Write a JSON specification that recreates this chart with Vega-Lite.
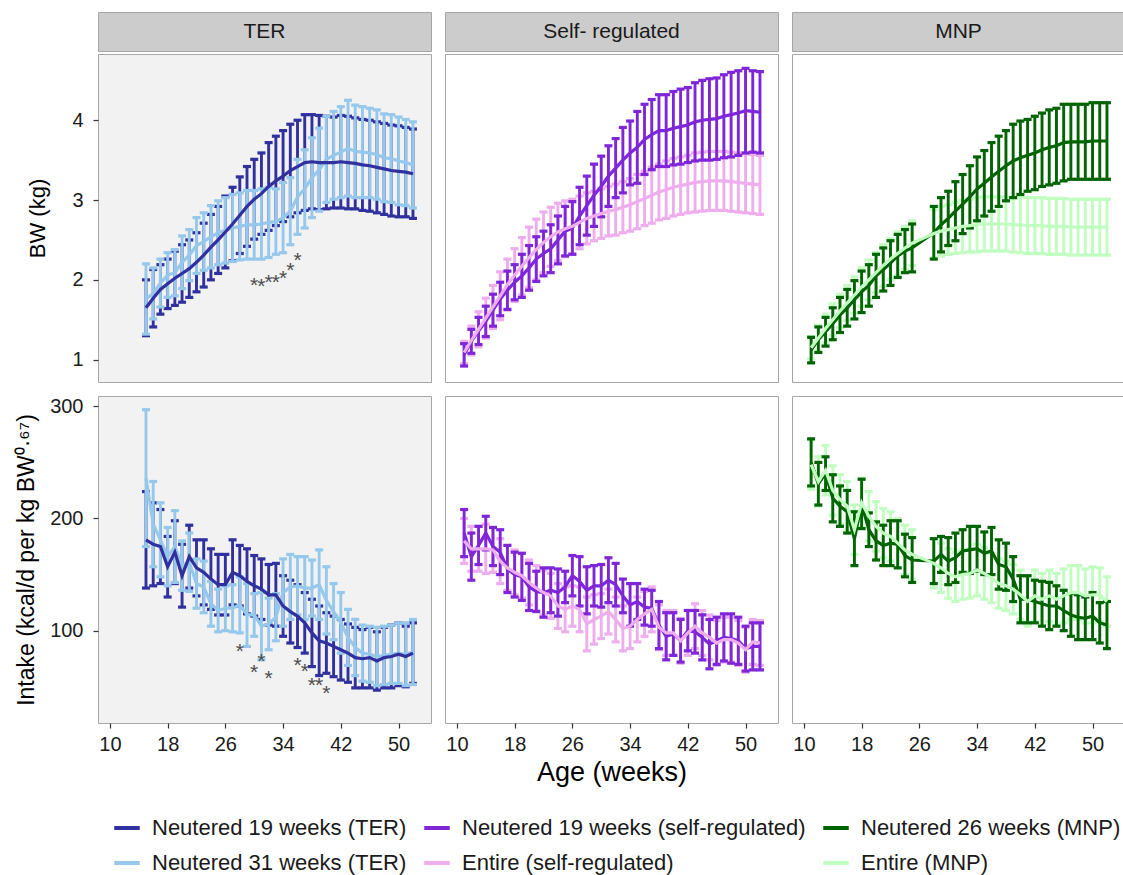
{
"$schema": "https://vega.github.io/schema/vega-lite/v6.json",
"padding": {"left": 15, "top": 11, "right": 1, "bottom": 0},
"background": "white",
"config": {
  "font": "Liberation Sans",
  "view": {"stroke": "#A6A6A6", "strokeWidth": 1},
  "axis": {"grid": false, "domain": false, "tickColor": "#333333", "tickSize": 5, "tickWidth": 1.2, "labelFontSize": 20, "labelColor": "#1A1A1A", "titleFontWeight": "normal", "titleColor": "#000000", "labelPadding": 6},
  "legend": {"orient": "bottom", "direction": "horizontal", "columns": 3, "symbolType": "stroke", "symbolStrokeWidth": 4, "symbolSize": 650, "labelFontSize": 22, "labelColor": "#1A1A1A", "columnPadding": 9, "rowPadding": 9, "labelOffset": 10, "offset": 13, "padding": 14, "labelLimit": 420, "symbolOpacity": 1}
},
"datasets": {
  "BW_TER": [
    {"series":"Neutered 19 weeks (TER)","week":15,"mean":1.65,"sd":0.35},
    {"series":"Neutered 19 weeks (TER)","week":16,"mean":1.77,"sd":0.36},
    {"series":"Neutered 19 weeks (TER)","week":17,"mean":1.88,"sd":0.31},
    {"series":"Neutered 19 weeks (TER)","week":18,"mean":1.95,"sd":0.31},
    {"series":"Neutered 19 weeks (TER)","week":19,"mean":2.02,"sd":0.34},
    {"series":"Neutered 19 weeks (TER)","week":20,"mean":2.08,"sd":0.36},
    {"series":"Neutered 19 weeks (TER)","week":21,"mean":2.14,"sd":0.36},
    {"series":"Neutered 19 weeks (TER)","week":22,"mean":2.22,"sd":0.37},
    {"series":"Neutered 19 weeks (TER)","week":23,"mean":2.31,"sd":0.40},
    {"series":"Neutered 19 weeks (TER)","week":24,"mean":2.41,"sd":0.41},
    {"series":"Neutered 19 weeks (TER)","week":25,"mean":2.50,"sd":0.42},
    {"series":"Neutered 19 weeks (TER)","week":26,"mean":2.60,"sd":0.45},
    {"series":"Neutered 19 weeks (TER)","week":27,"mean":2.70,"sd":0.46},
    {"series":"Neutered 19 weeks (TER)","week":28,"mean":2.81,"sd":0.48},
    {"series":"Neutered 19 weeks (TER)","week":29,"mean":2.92,"sd":0.50},
    {"series":"Neutered 19 weeks (TER)","week":30,"mean":3.01,"sd":0.50},
    {"series":"Neutered 19 weeks (TER)","week":31,"mean":3.08,"sd":0.51},
    {"series":"Neutered 19 weeks (TER)","week":32,"mean":3.17,"sd":0.55},
    {"series":"Neutered 19 weeks (TER)","week":33,"mean":3.24,"sd":0.56},
    {"series":"Neutered 19 weeks (TER)","week":34,"mean":3.30,"sd":0.57},
    {"series":"Neutered 19 weeks (TER)","week":35,"mean":3.37,"sd":0.58},
    {"series":"Neutered 19 weeks (TER)","week":36,"mean":3.42,"sd":0.58},
    {"series":"Neutered 19 weeks (TER)","week":37,"mean":3.47,"sd":0.60},
    {"series":"Neutered 19 weeks (TER)","week":38,"mean":3.48,"sd":0.59},
    {"series":"Neutered 19 weeks (TER)","week":39,"mean":3.47,"sd":0.59},
    {"series":"Neutered 19 weeks (TER)","week":40,"mean":3.47,"sd":0.58},
    {"series":"Neutered 19 weeks (TER)","week":41,"mean":3.47,"sd":0.57},
    {"series":"Neutered 19 weeks (TER)","week":42,"mean":3.48,"sd":0.58},
    {"series":"Neutered 19 weeks (TER)","week":43,"mean":3.47,"sd":0.58},
    {"series":"Neutered 19 weeks (TER)","week":44,"mean":3.46,"sd":0.57},
    {"series":"Neutered 19 weeks (TER)","week":45,"mean":3.44,"sd":0.57},
    {"series":"Neutered 19 weeks (TER)","week":46,"mean":3.43,"sd":0.57},
    {"series":"Neutered 19 weeks (TER)","week":47,"mean":3.41,"sd":0.57},
    {"series":"Neutered 19 weeks (TER)","week":48,"mean":3.39,"sd":0.57},
    {"series":"Neutered 19 weeks (TER)","week":49,"mean":3.37,"sd":0.57},
    {"series":"Neutered 19 weeks (TER)","week":50,"mean":3.36,"sd":0.57},
    {"series":"Neutered 19 weeks (TER)","week":51,"mean":3.35,"sd":0.56},
    {"series":"Neutered 19 weeks (TER)","week":52,"mean":3.33,"sd":0.56},
    {"series":"Neutered 31 weeks (TER)","week":15,"mean":1.76,"sd":0.44},
    {"series":"Neutered 31 weeks (TER)","week":16,"mean":1.83,"sd":0.32},
    {"series":"Neutered 31 weeks (TER)","week":17,"mean":1.96,"sd":0.30},
    {"series":"Neutered 31 weeks (TER)","week":18,"mean":2.06,"sd":0.28},
    {"series":"Neutered 31 weeks (TER)","week":19,"mean":2.09,"sd":0.29},
    {"series":"Neutered 31 weeks (TER)","week":20,"mean":2.22,"sd":0.33},
    {"series":"Neutered 31 weeks (TER)","week":21,"mean":2.31,"sd":0.32},
    {"series":"Neutered 31 weeks (TER)","week":22,"mean":2.43,"sd":0.35},
    {"series":"Neutered 31 weeks (TER)","week":23,"mean":2.48,"sd":0.36},
    {"series":"Neutered 31 weeks (TER)","week":24,"mean":2.54,"sd":0.39},
    {"series":"Neutered 31 weeks (TER)","week":25,"mean":2.59,"sd":0.40},
    {"series":"Neutered 31 weeks (TER)","week":26,"mean":2.62,"sd":0.41},
    {"series":"Neutered 31 weeks (TER)","week":27,"mean":2.65,"sd":0.42},
    {"series":"Neutered 31 weeks (TER)","week":28,"mean":2.67,"sd":0.42},
    {"series":"Neutered 31 weeks (TER)","week":29,"mean":2.69,"sd":0.43},
    {"series":"Neutered 31 weeks (TER)","week":30,"mean":2.69,"sd":0.43},
    {"series":"Neutered 31 weeks (TER)","week":31,"mean":2.70,"sd":0.44},
    {"series":"Neutered 31 weeks (TER)","week":32,"mean":2.72,"sd":0.44},
    {"series":"Neutered 31 weeks (TER)","week":33,"mean":2.73,"sd":0.41},
    {"series":"Neutered 31 weeks (TER)","week":34,"mean":2.78,"sd":0.44},
    {"series":"Neutered 31 weeks (TER)","week":35,"mean":2.86,"sd":0.42},
    {"series":"Neutered 31 weeks (TER)","week":36,"mean":3.04,"sd":0.47},
    {"series":"Neutered 31 weeks (TER)","week":37,"mean":3.14,"sd":0.49},
    {"series":"Neutered 31 weeks (TER)","week":38,"mean":3.28,"sd":0.50},
    {"series":"Neutered 31 weeks (TER)","week":39,"mean":3.38,"sd":0.52},
    {"series":"Neutered 31 weeks (TER)","week":40,"mean":3.51,"sd":0.54},
    {"series":"Neutered 31 weeks (TER)","week":41,"mean":3.56,"sd":0.55},
    {"series":"Neutered 31 weeks (TER)","week":42,"mean":3.60,"sd":0.57},
    {"series":"Neutered 31 weeks (TER)","week":43,"mean":3.65,"sd":0.60},
    {"series":"Neutered 31 weeks (TER)","week":44,"mean":3.61,"sd":0.58},
    {"series":"Neutered 31 weeks (TER)","week":45,"mean":3.60,"sd":0.57},
    {"series":"Neutered 31 weeks (TER)","week":46,"mean":3.59,"sd":0.56},
    {"series":"Neutered 31 weeks (TER)","week":47,"mean":3.57,"sd":0.56},
    {"series":"Neutered 31 weeks (TER)","week":48,"mean":3.53,"sd":0.55},
    {"series":"Neutered 31 weeks (TER)","week":49,"mean":3.52,"sd":0.55},
    {"series":"Neutered 31 weeks (TER)","week":50,"mean":3.49,"sd":0.55},
    {"series":"Neutered 31 weeks (TER)","week":51,"mean":3.47,"sd":0.54},
    {"series":"Neutered 31 weeks (TER)","week":52,"mean":3.44,"sd":0.54}
  ],
  "BW_SR": [
    {"series":"Neutered 19 weeks (self-regulated)","week":11,"mean":1.06,"sd":0.14},
    {"series":"Neutered 19 weeks (self-regulated)","week":12,"mean":1.23,"sd":0.15},
    {"series":"Neutered 19 weeks (self-regulated)","week":13,"mean":1.36,"sd":0.17},
    {"series":"Neutered 19 weeks (self-regulated)","week":14,"mean":1.48,"sd":0.19},
    {"series":"Neutered 19 weeks (self-regulated)","week":15,"mean":1.62,"sd":0.20},
    {"series":"Neutered 19 weeks (self-regulated)","week":16,"mean":1.76,"sd":0.21},
    {"series":"Neutered 19 weeks (self-regulated)","week":17,"mean":1.87,"sd":0.24},
    {"series":"Neutered 19 weeks (self-regulated)","week":18,"mean":1.97,"sd":0.22},
    {"series":"Neutered 19 weeks (self-regulated)","week":19,"mean":2.05,"sd":0.27},
    {"series":"Neutered 19 weeks (self-regulated)","week":20,"mean":2.15,"sd":0.28},
    {"series":"Neutered 19 weeks (self-regulated)","week":21,"mean":2.26,"sd":0.28},
    {"series":"Neutered 19 weeks (self-regulated)","week":22,"mean":2.33,"sd":0.28},
    {"series":"Neutered 19 weeks (self-regulated)","week":23,"mean":2.39,"sd":0.30},
    {"series":"Neutered 19 weeks (self-regulated)","week":24,"mean":2.50,"sd":0.30},
    {"series":"Neutered 19 weeks (self-regulated)","week":25,"mean":2.61,"sd":0.31},
    {"series":"Neutered 19 weeks (self-regulated)","week":26,"mean":2.65,"sd":0.33},
    {"series":"Neutered 19 weeks (self-regulated)","week":27,"mean":2.80,"sd":0.36},
    {"series":"Neutered 19 weeks (self-regulated)","week":28,"mean":2.93,"sd":0.37},
    {"series":"Neutered 19 weeks (self-regulated)","week":29,"mean":3.06,"sd":0.39},
    {"series":"Neutered 19 weeks (self-regulated)","week":30,"mean":3.17,"sd":0.38},
    {"series":"Neutered 19 weeks (self-regulated)","week":31,"mean":3.30,"sd":0.38},
    {"series":"Neutered 19 weeks (self-regulated)","week":32,"mean":3.40,"sd":0.37},
    {"series":"Neutered 19 weeks (self-regulated)","week":33,"mean":3.50,"sd":0.41},
    {"series":"Neutered 19 weeks (self-regulated)","week":34,"mean":3.59,"sd":0.40},
    {"series":"Neutered 19 weeks (self-regulated)","week":35,"mean":3.66,"sd":0.45},
    {"series":"Neutered 19 weeks (self-regulated)","week":36,"mean":3.76,"sd":0.44},
    {"series":"Neutered 19 weeks (self-regulated)","week":37,"mean":3.82,"sd":0.44},
    {"series":"Neutered 19 weeks (self-regulated)","week":38,"mean":3.87,"sd":0.45},
    {"series":"Neutered 19 weeks (self-regulated)","week":39,"mean":3.87,"sd":0.45},
    {"series":"Neutered 19 weeks (self-regulated)","week":40,"mean":3.90,"sd":0.46},
    {"series":"Neutered 19 weeks (self-regulated)","week":41,"mean":3.92,"sd":0.47},
    {"series":"Neutered 19 weeks (self-regulated)","week":42,"mean":3.94,"sd":0.47},
    {"series":"Neutered 19 weeks (self-regulated)","week":43,"mean":3.98,"sd":0.49},
    {"series":"Neutered 19 weeks (self-regulated)","week":44,"mean":4.00,"sd":0.50},
    {"series":"Neutered 19 weeks (self-regulated)","week":45,"mean":4.01,"sd":0.51},
    {"series":"Neutered 19 weeks (self-regulated)","week":46,"mean":4.02,"sd":0.51},
    {"series":"Neutered 19 weeks (self-regulated)","week":47,"mean":4.05,"sd":0.52},
    {"series":"Neutered 19 weeks (self-regulated)","week":48,"mean":4.07,"sd":0.53},
    {"series":"Neutered 19 weeks (self-regulated)","week":49,"mean":4.09,"sd":0.53},
    {"series":"Neutered 19 weeks (self-regulated)","week":50,"mean":4.12,"sd":0.53},
    {"series":"Neutered 19 weeks (self-regulated)","week":51,"mean":4.11,"sd":0.51},
    {"series":"Neutered 19 weeks (self-regulated)","week":52,"mean":4.10,"sd":0.51},
    {"series":"Entire (self-regulated)","week":11,"mean":1.09,"sd":0.14},
    {"series":"Entire (self-regulated)","week":12,"mean":1.24,"sd":0.18},
    {"series":"Entire (self-regulated)","week":13,"mean":1.38,"sd":0.22},
    {"series":"Entire (self-regulated)","week":14,"mean":1.52,"sd":0.25},
    {"series":"Entire (self-regulated)","week":15,"mean":1.66,"sd":0.27},
    {"series":"Entire (self-regulated)","week":16,"mean":1.80,"sd":0.30},
    {"series":"Entire (self-regulated)","week":17,"mean":1.94,"sd":0.32},
    {"series":"Entire (self-regulated)","week":18,"mean":2.06,"sd":0.33},
    {"series":"Entire (self-regulated)","week":19,"mean":2.17,"sd":0.36},
    {"series":"Entire (self-regulated)","week":20,"mean":2.28,"sd":0.38},
    {"series":"Entire (self-regulated)","week":21,"mean":2.38,"sd":0.38},
    {"series":"Entire (self-regulated)","week":22,"mean":2.47,"sd":0.38},
    {"series":"Entire (self-regulated)","week":23,"mean":2.54,"sd":0.37},
    {"series":"Entire (self-regulated)","week":24,"mean":2.60,"sd":0.36},
    {"series":"Entire (self-regulated)","week":25,"mean":2.64,"sd":0.35},
    {"series":"Entire (self-regulated)","week":26,"mean":2.67,"sd":0.34},
    {"series":"Entire (self-regulated)","week":27,"mean":2.72,"sd":0.33},
    {"series":"Entire (self-regulated)","week":28,"mean":2.77,"sd":0.32},
    {"series":"Entire (self-regulated)","week":29,"mean":2.80,"sd":0.31},
    {"series":"Entire (self-regulated)","week":30,"mean":2.83,"sd":0.31},
    {"series":"Entire (self-regulated)","week":31,"mean":2.86,"sd":0.31},
    {"series":"Entire (self-regulated)","week":32,"mean":2.88,"sd":0.32},
    {"series":"Entire (self-regulated)","week":33,"mean":2.91,"sd":0.32},
    {"series":"Entire (self-regulated)","week":34,"mean":2.94,"sd":0.33},
    {"series":"Entire (self-regulated)","week":35,"mean":2.98,"sd":0.34},
    {"series":"Entire (self-regulated)","week":36,"mean":3.02,"sd":0.34},
    {"series":"Entire (self-regulated)","week":37,"mean":3.06,"sd":0.35},
    {"series":"Entire (self-regulated)","week":38,"mean":3.10,"sd":0.35},
    {"series":"Entire (self-regulated)","week":39,"mean":3.13,"sd":0.36},
    {"series":"Entire (self-regulated)","week":40,"mean":3.16,"sd":0.36},
    {"series":"Entire (self-regulated)","week":41,"mean":3.18,"sd":0.36},
    {"series":"Entire (self-regulated)","week":42,"mean":3.20,"sd":0.36},
    {"series":"Entire (self-regulated)","week":43,"mean":3.22,"sd":0.37},
    {"series":"Entire (self-regulated)","week":44,"mean":3.23,"sd":0.37},
    {"series":"Entire (self-regulated)","week":45,"mean":3.24,"sd":0.37},
    {"series":"Entire (self-regulated)","week":46,"mean":3.24,"sd":0.37},
    {"series":"Entire (self-regulated)","week":47,"mean":3.24,"sd":0.37},
    {"series":"Entire (self-regulated)","week":48,"mean":3.23,"sd":0.37},
    {"series":"Entire (self-regulated)","week":49,"mean":3.22,"sd":0.37},
    {"series":"Entire (self-regulated)","week":50,"mean":3.21,"sd":0.37},
    {"series":"Entire (self-regulated)","week":51,"mean":3.20,"sd":0.37},
    {"series":"Entire (self-regulated)","week":52,"mean":3.19,"sd":0.37}
  ],
  "BW_MNP": [
    {"series":"Neutered 26 weeks (MNP)","week":11,"mean":1.12,"sd":0.16},
    {"series":"Neutered 26 weeks (MNP)","week":12,"mean":1.25,"sd":0.16},
    {"series":"Neutered 26 weeks (MNP)","week":13,"mean":1.35,"sd":0.18},
    {"series":"Neutered 26 weeks (MNP)","week":14,"mean":1.45,"sd":0.20},
    {"series":"Neutered 26 weeks (MNP)","week":15,"mean":1.56,"sd":0.22},
    {"series":"Neutered 26 weeks (MNP)","week":16,"mean":1.65,"sd":0.23},
    {"series":"Neutered 26 weeks (MNP)","week":17,"mean":1.75,"sd":0.24},
    {"series":"Neutered 26 weeks (MNP)","week":18,"mean":1.85,"sd":0.26},
    {"series":"Neutered 26 weeks (MNP)","week":19,"mean":1.93,"sd":0.26},
    {"series":"Neutered 26 weeks (MNP)","week":20,"mean":2.05,"sd":0.27},
    {"series":"Neutered 26 weeks (MNP)","week":21,"mean":2.13,"sd":0.27},
    {"series":"Neutered 26 weeks (MNP)","week":22,"mean":2.21,"sd":0.28},
    {"series":"Neutered 26 weeks (MNP)","week":23,"mean":2.30,"sd":0.27},
    {"series":"Neutered 26 weeks (MNP)","week":24,"mean":2.36,"sd":0.27},
    {"series":"Neutered 26 weeks (MNP)","week":25,"mean":2.40,"sd":0.30},
    {"series":"Neutered 26 weeks (MNP)","week":28,"mean":2.59,"sd":0.33},
    {"series":"Neutered 26 weeks (MNP)","week":29,"mean":2.69,"sd":0.34},
    {"series":"Neutered 26 weeks (MNP)","week":30,"mean":2.77,"sd":0.34},
    {"series":"Neutered 26 weeks (MNP)","week":31,"mean":2.86,"sd":0.37},
    {"series":"Neutered 26 weeks (MNP)","week":32,"mean":2.95,"sd":0.37},
    {"series":"Neutered 26 weeks (MNP)","week":33,"mean":3.04,"sd":0.39},
    {"series":"Neutered 26 weeks (MNP)","week":34,"mean":3.14,"sd":0.40},
    {"series":"Neutered 26 weeks (MNP)","week":35,"mean":3.21,"sd":0.41},
    {"series":"Neutered 26 weeks (MNP)","week":36,"mean":3.29,"sd":0.43},
    {"series":"Neutered 26 weeks (MNP)","week":37,"mean":3.36,"sd":0.44},
    {"series":"Neutered 26 weeks (MNP)","week":38,"mean":3.43,"sd":0.44},
    {"series":"Neutered 26 weeks (MNP)","week":39,"mean":3.49,"sd":0.46},
    {"series":"Neutered 26 weeks (MNP)","week":40,"mean":3.53,"sd":0.46},
    {"series":"Neutered 26 weeks (MNP)","week":41,"mean":3.56,"sd":0.45},
    {"series":"Neutered 26 weeks (MNP)","week":42,"mean":3.59,"sd":0.46},
    {"series":"Neutered 26 weeks (MNP)","week":43,"mean":3.63,"sd":0.46},
    {"series":"Neutered 26 weeks (MNP)","week":44,"mean":3.66,"sd":0.47},
    {"series":"Neutered 26 weeks (MNP)","week":45,"mean":3.68,"sd":0.47},
    {"series":"Neutered 26 weeks (MNP)","week":46,"mean":3.72,"sd":0.48},
    {"series":"Neutered 26 weeks (MNP)","week":47,"mean":3.73,"sd":0.47},
    {"series":"Neutered 26 weeks (MNP)","week":48,"mean":3.73,"sd":0.47},
    {"series":"Neutered 26 weeks (MNP)","week":49,"mean":3.73,"sd":0.47},
    {"series":"Neutered 26 weeks (MNP)","week":50,"mean":3.74,"sd":0.48},
    {"series":"Neutered 26 weeks (MNP)","week":51,"mean":3.74,"sd":0.48},
    {"series":"Neutered 26 weeks (MNP)","week":52,"mean":3.74,"sd":0.48},
    {"series":"Entire (MNP)","week":11,"mean":1.15,"sd":0.14},
    {"series":"Entire (MNP)","week":12,"mean":1.27,"sd":0.16},
    {"series":"Entire (MNP)","week":13,"mean":1.39,"sd":0.18},
    {"series":"Entire (MNP)","week":14,"mean":1.50,"sd":0.20},
    {"series":"Entire (MNP)","week":15,"mean":1.61,"sd":0.21},
    {"series":"Entire (MNP)","week":16,"mean":1.71,"sd":0.22},
    {"series":"Entire (MNP)","week":17,"mean":1.81,"sd":0.23},
    {"series":"Entire (MNP)","week":18,"mean":1.91,"sd":0.24},
    {"series":"Entire (MNP)","week":19,"mean":2.00,"sd":0.25},
    {"series":"Entire (MNP)","week":20,"mean":2.09,"sd":0.25},
    {"series":"Entire (MNP)","week":21,"mean":2.18,"sd":0.26},
    {"series":"Entire (MNP)","week":22,"mean":2.26,"sd":0.26},
    {"series":"Entire (MNP)","week":23,"mean":2.33,"sd":0.27},
    {"series":"Entire (MNP)","week":24,"mean":2.40,"sd":0.27},
    {"series":"Entire (MNP)","week":25,"mean":2.46,"sd":0.28},
    {"series":"Entire (MNP)","week":28,"mean":2.58,"sd":0.30},
    {"series":"Entire (MNP)","week":29,"mean":2.61,"sd":0.31},
    {"series":"Entire (MNP)","week":30,"mean":2.63,"sd":0.31},
    {"series":"Entire (MNP)","week":31,"mean":2.65,"sd":0.32},
    {"series":"Entire (MNP)","week":32,"mean":2.67,"sd":0.33},
    {"series":"Entire (MNP)","week":33,"mean":2.68,"sd":0.33},
    {"series":"Entire (MNP)","week":34,"mean":2.69,"sd":0.34},
    {"series":"Entire (MNP)","week":35,"mean":2.70,"sd":0.34},
    {"series":"Entire (MNP)","week":36,"mean":2.70,"sd":0.34},
    {"series":"Entire (MNP)","week":37,"mean":2.70,"sd":0.34},
    {"series":"Entire (MNP)","week":38,"mean":2.70,"sd":0.34},
    {"series":"Entire (MNP)","week":39,"mean":2.69,"sd":0.34},
    {"series":"Entire (MNP)","week":40,"mean":2.69,"sd":0.35},
    {"series":"Entire (MNP)","week":41,"mean":2.68,"sd":0.35},
    {"series":"Entire (MNP)","week":42,"mean":2.68,"sd":0.35},
    {"series":"Entire (MNP)","week":43,"mean":2.68,"sd":0.35},
    {"series":"Entire (MNP)","week":44,"mean":2.67,"sd":0.35},
    {"series":"Entire (MNP)","week":45,"mean":2.67,"sd":0.35},
    {"series":"Entire (MNP)","week":46,"mean":2.67,"sd":0.35},
    {"series":"Entire (MNP)","week":47,"mean":2.66,"sd":0.35},
    {"series":"Entire (MNP)","week":48,"mean":2.66,"sd":0.35},
    {"series":"Entire (MNP)","week":49,"mean":2.66,"sd":0.35},
    {"series":"Entire (MNP)","week":50,"mean":2.66,"sd":0.35},
    {"series":"Entire (MNP)","week":51,"mean":2.66,"sd":0.35},
    {"series":"Entire (MNP)","week":52,"mean":2.66,"sd":0.35}
  ],
  "IN_TER": [
    {"series":"Neutered 19 weeks (TER)","week":15,"mean":181,"sd":43},
    {"series":"Neutered 19 weeks (TER)","week":16,"mean":177,"sd":37},
    {"series":"Neutered 19 weeks (TER)","week":17,"mean":175,"sd":33},
    {"series":"Neutered 19 weeks (TER)","week":18,"mean":157,"sd":27},
    {"series":"Neutered 19 weeks (TER)","week":19,"mean":170,"sd":28},
    {"series":"Neutered 19 weeks (TER)","week":20,"mean":149,"sd":28},
    {"series":"Neutered 19 weeks (TER)","week":21,"mean":166,"sd":28},
    {"series":"Neutered 19 weeks (TER)","week":22,"mean":156,"sd":25},
    {"series":"Neutered 19 weeks (TER)","week":23,"mean":152,"sd":29},
    {"series":"Neutered 19 weeks (TER)","week":24,"mean":146,"sd":27},
    {"series":"Neutered 19 weeks (TER)","week":25,"mean":141,"sd":27},
    {"series":"Neutered 19 weeks (TER)","week":26,"mean":141,"sd":27},
    {"series":"Neutered 19 weeks (TER)","week":27,"mean":152,"sd":29},
    {"series":"Neutered 19 weeks (TER)","week":28,"mean":149,"sd":27},
    {"series":"Neutered 19 weeks (TER)","week":29,"mean":144,"sd":29},
    {"series":"Neutered 19 weeks (TER)","week":30,"mean":140,"sd":27},
    {"series":"Neutered 19 weeks (TER)","week":31,"mean":137,"sd":27},
    {"series":"Neutered 19 weeks (TER)","week":32,"mean":132,"sd":27},
    {"series":"Neutered 19 weeks (TER)","week":33,"mean":132,"sd":28},
    {"series":"Neutered 19 weeks (TER)","week":34,"mean":122,"sd":27},
    {"series":"Neutered 19 weeks (TER)","week":35,"mean":117,"sd":28},
    {"series":"Neutered 19 weeks (TER)","week":36,"mean":113,"sd":28},
    {"series":"Neutered 19 weeks (TER)","week":37,"mean":107,"sd":27},
    {"series":"Neutered 19 weeks (TER)","week":38,"mean":98,"sd":30},
    {"series":"Neutered 19 weeks (TER)","week":39,"mean":91,"sd":31},
    {"series":"Neutered 19 weeks (TER)","week":40,"mean":89,"sd":27},
    {"series":"Neutered 19 weeks (TER)","week":41,"mean":86,"sd":27},
    {"series":"Neutered 19 weeks (TER)","week":42,"mean":83,"sd":27},
    {"series":"Neutered 19 weeks (TER)","week":43,"mean":80,"sd":26},
    {"series":"Neutered 19 weeks (TER)","week":44,"mean":76,"sd":27},
    {"series":"Neutered 19 weeks (TER)","week":45,"mean":75,"sd":26},
    {"series":"Neutered 19 weeks (TER)","week":46,"mean":76,"sd":27},
    {"series":"Neutered 19 weeks (TER)","week":47,"mean":73,"sd":26},
    {"series":"Neutered 19 weeks (TER)","week":48,"mean":76,"sd":27},
    {"series":"Neutered 19 weeks (TER)","week":49,"mean":77,"sd":28},
    {"series":"Neutered 19 weeks (TER)","week":50,"mean":79,"sd":28},
    {"series":"Neutered 19 weeks (TER)","week":51,"mean":77,"sd":27},
    {"series":"Neutered 19 weeks (TER)","week":52,"mean":80,"sd":27},
    {"series":"Neutered 31 weeks (TER)","week":15,"mean":236,"sd":61},
    {"series":"Neutered 31 weeks (TER)","week":16,"mean":195,"sd":38},
    {"series":"Neutered 31 weeks (TER)","week":17,"mean":181,"sd":33},
    {"series":"Neutered 31 weeks (TER)","week":18,"mean":166,"sd":26},
    {"series":"Neutered 31 weeks (TER)","week":19,"mean":175,"sd":32},
    {"series":"Neutered 31 weeks (TER)","week":20,"mean":158,"sd":22},
    {"series":"Neutered 31 weeks (TER)","week":21,"mean":161,"sd":26},
    {"series":"Neutered 31 weeks (TER)","week":22,"mean":142,"sd":22},
    {"series":"Neutered 31 weeks (TER)","week":23,"mean":139,"sd":23},
    {"series":"Neutered 31 weeks (TER)","week":24,"mean":124,"sd":20},
    {"series":"Neutered 31 weeks (TER)","week":25,"mean":118,"sd":19},
    {"series":"Neutered 31 weeks (TER)","week":26,"mean":120,"sd":20},
    {"series":"Neutered 31 weeks (TER)","week":27,"mean":120,"sd":21},
    {"series":"Neutered 31 weeks (TER)","week":28,"mean":123,"sd":25},
    {"series":"Neutered 31 weeks (TER)","week":29,"mean":114,"sd":28},
    {"series":"Neutered 31 weeks (TER)","week":30,"mean":114,"sd":19},
    {"series":"Neutered 31 weeks (TER)","week":31,"mean":104,"sd":30},
    {"series":"Neutered 31 weeks (TER)","week":32,"mean":106,"sd":23},
    {"series":"Neutered 31 weeks (TER)","week":33,"mean":112,"sd":21},
    {"series":"Neutered 31 weeks (TER)","week":34,"mean":134,"sd":30},
    {"series":"Neutered 31 weeks (TER)","week":35,"mean":139,"sd":29},
    {"series":"Neutered 31 weeks (TER)","week":36,"mean":140,"sd":26},
    {"series":"Neutered 31 weeks (TER)","week":37,"mean":138,"sd":28},
    {"series":"Neutered 31 weeks (TER)","week":38,"mean":138,"sd":25},
    {"series":"Neutered 31 weeks (TER)","week":39,"mean":141,"sd":31},
    {"series":"Neutered 31 weeks (TER)","week":40,"mean":127,"sd":30},
    {"series":"Neutered 31 weeks (TER)","week":41,"mean":117,"sd":25},
    {"series":"Neutered 31 weeks (TER)","week":42,"mean":107,"sd":27},
    {"series":"Neutered 31 weeks (TER)","week":43,"mean":94,"sd":25},
    {"series":"Neutered 31 weeks (TER)","week":44,"mean":85,"sd":25},
    {"series":"Neutered 31 weeks (TER)","week":45,"mean":80,"sd":25},
    {"series":"Neutered 31 weeks (TER)","week":46,"mean":79,"sd":25},
    {"series":"Neutered 31 weeks (TER)","week":47,"mean":77,"sd":26},
    {"series":"Neutered 31 weeks (TER)","week":48,"mean":78,"sd":26},
    {"series":"Neutered 31 weeks (TER)","week":49,"mean":79,"sd":26},
    {"series":"Neutered 31 weeks (TER)","week":50,"mean":80,"sd":27},
    {"series":"Neutered 31 weeks (TER)","week":51,"mean":79,"sd":28},
    {"series":"Neutered 31 weeks (TER)","week":52,"mean":81,"sd":29}
  ],
  "IN_SR": [
    {"series":"Neutered 19 weeks (self-regulated)","week":11,"mean":187,"sd":21},
    {"series":"Neutered 19 weeks (self-regulated)","week":12,"mean":166,"sd":21},
    {"series":"Neutered 19 weeks (self-regulated)","week":13,"mean":176,"sd":17},
    {"series":"Neutered 19 weeks (self-regulated)","week":14,"mean":187,"sd":15},
    {"series":"Neutered 19 weeks (self-regulated)","week":15,"mean":175,"sd":17},
    {"series":"Neutered 19 weeks (self-regulated)","week":16,"mean":170,"sd":20},
    {"series":"Neutered 19 weeks (self-regulated)","week":17,"mean":155,"sd":21},
    {"series":"Neutered 19 weeks (self-regulated)","week":18,"mean":150,"sd":20},
    {"series":"Neutered 19 weeks (self-regulated)","week":19,"mean":148,"sd":21},
    {"series":"Neutered 19 weeks (self-regulated)","week":20,"mean":139,"sd":21},
    {"series":"Neutered 19 weeks (self-regulated)","week":21,"mean":135,"sd":18},
    {"series":"Neutered 19 weeks (self-regulated)","week":22,"mean":134,"sd":22},
    {"series":"Neutered 19 weeks (self-regulated)","week":23,"mean":136,"sd":20},
    {"series":"Neutered 19 weeks (self-regulated)","week":24,"mean":134,"sd":21},
    {"series":"Neutered 19 weeks (self-regulated)","week":25,"mean":139,"sd":14},
    {"series":"Neutered 19 weeks (self-regulated)","week":26,"mean":149,"sd":18},
    {"series":"Neutered 19 weeks (self-regulated)","week":27,"mean":144,"sd":22},
    {"series":"Neutered 19 weeks (self-regulated)","week":28,"mean":136,"sd":21},
    {"series":"Neutered 19 weeks (self-regulated)","week":29,"mean":140,"sd":18},
    {"series":"Neutered 19 weeks (self-regulated)","week":30,"mean":140,"sd":19},
    {"series":"Neutered 19 weeks (self-regulated)","week":31,"mean":145,"sd":20},
    {"series":"Neutered 19 weeks (self-regulated)","week":32,"mean":141,"sd":19},
    {"series":"Neutered 19 weeks (self-regulated)","week":33,"mean":131,"sd":15},
    {"series":"Neutered 19 weeks (self-regulated)","week":34,"mean":123,"sd":19},
    {"series":"Neutered 19 weeks (self-regulated)","week":35,"mean":126,"sd":16},
    {"series":"Neutered 19 weeks (self-regulated)","week":36,"mean":121,"sd":16},
    {"series":"Neutered 19 weeks (self-regulated)","week":37,"mean":120,"sd":16},
    {"series":"Neutered 19 weeks (self-regulated)","week":38,"mean":105,"sd":21},
    {"series":"Neutered 19 weeks (self-regulated)","week":39,"mean":95,"sd":21},
    {"series":"Neutered 19 weeks (self-regulated)","week":40,"mean":97,"sd":19},
    {"series":"Neutered 19 weeks (self-regulated)","week":41,"mean":91,"sd":19},
    {"series":"Neutered 19 weeks (self-regulated)","week":42,"mean":100,"sd":18},
    {"series":"Neutered 19 weeks (self-regulated)","week":43,"mean":99,"sd":19},
    {"series":"Neutered 19 weeks (self-regulated)","week":44,"mean":94,"sd":20},
    {"series":"Neutered 19 weeks (self-regulated)","week":45,"mean":88,"sd":22},
    {"series":"Neutered 19 weeks (self-regulated)","week":46,"mean":91,"sd":21},
    {"series":"Neutered 19 weeks (self-regulated)","week":47,"mean":94,"sd":21},
    {"series":"Neutered 19 weeks (self-regulated)","week":48,"mean":93,"sd":22},
    {"series":"Neutered 19 weeks (self-regulated)","week":49,"mean":91,"sd":21},
    {"series":"Neutered 19 weeks (self-regulated)","week":50,"mean":84,"sd":20},
    {"series":"Neutered 19 weeks (self-regulated)","week":51,"mean":86,"sd":21},
    {"series":"Neutered 19 weeks (self-regulated)","week":52,"mean":86,"sd":21},
    {"series":"Entire (self-regulated)","week":11,"mean":180,"sd":20},
    {"series":"Entire (self-regulated)","week":12,"mean":173,"sd":20},
    {"series":"Entire (self-regulated)","week":13,"mean":173,"sd":20},
    {"series":"Entire (self-regulated)","week":14,"mean":173,"sd":22},
    {"series":"Entire (self-regulated)","week":15,"mean":172,"sd":20},
    {"series":"Entire (self-regulated)","week":16,"mean":162,"sd":20},
    {"series":"Entire (self-regulated)","week":17,"mean":156,"sd":20},
    {"series":"Entire (self-regulated)","week":18,"mean":152,"sd":20},
    {"series":"Entire (self-regulated)","week":19,"mean":149,"sd":20},
    {"series":"Entire (self-regulated)","week":20,"mean":143,"sd":20},
    {"series":"Entire (self-regulated)","week":21,"mean":138,"sd":20},
    {"series":"Entire (self-regulated)","week":22,"mean":134,"sd":20},
    {"series":"Entire (self-regulated)","week":23,"mean":131,"sd":20},
    {"series":"Entire (self-regulated)","week":24,"mean":122,"sd":20},
    {"series":"Entire (self-regulated)","week":25,"mean":119,"sd":20},
    {"series":"Entire (self-regulated)","week":26,"mean":122,"sd":18},
    {"series":"Entire (self-regulated)","week":27,"mean":119,"sd":20},
    {"series":"Entire (self-regulated)","week":28,"mean":106,"sd":24},
    {"series":"Entire (self-regulated)","week":29,"mean":110,"sd":22},
    {"series":"Entire (self-regulated)","week":30,"mean":113,"sd":20},
    {"series":"Entire (self-regulated)","week":31,"mean":117,"sd":20},
    {"series":"Entire (self-regulated)","week":32,"mean":110,"sd":20},
    {"series":"Entire (self-regulated)","week":33,"mean":102,"sd":20},
    {"series":"Entire (self-regulated)","week":34,"mean":104,"sd":20},
    {"series":"Entire (self-regulated)","week":35,"mean":110,"sd":20},
    {"series":"Entire (self-regulated)","week":36,"mean":115,"sd":20},
    {"series":"Entire (self-regulated)","week":37,"mean":119,"sd":20},
    {"series":"Entire (self-regulated)","week":38,"mean":103,"sd":20},
    {"series":"Entire (self-regulated)","week":39,"mean":98,"sd":20},
    {"series":"Entire (self-regulated)","week":40,"mean":98,"sd":20},
    {"series":"Entire (self-regulated)","week":41,"mean":91,"sd":20},
    {"series":"Entire (self-regulated)","week":42,"mean":98,"sd":20},
    {"series":"Entire (self-regulated)","week":43,"mean":104,"sd":20},
    {"series":"Entire (self-regulated)","week":44,"mean":98,"sd":20},
    {"series":"Entire (self-regulated)","week":45,"mean":94,"sd":20},
    {"series":"Entire (self-regulated)","week":46,"mean":89,"sd":20},
    {"series":"Entire (self-regulated)","week":47,"mean":92,"sd":20},
    {"series":"Entire (self-regulated)","week":48,"mean":92,"sd":20},
    {"series":"Entire (self-regulated)","week":49,"mean":89,"sd":20},
    {"series":"Entire (self-regulated)","week":50,"mean":83,"sd":20},
    {"series":"Entire (self-regulated)","week":51,"mean":90,"sd":20},
    {"series":"Entire (self-regulated)","week":52,"mean":89,"sd":20}
  ],
  "IN_MNP": [
    {"series":"Neutered 26 weeks (MNP)","week":11,"mean":250,"sd":21},
    {"series":"Neutered 26 weeks (MNP)","week":12,"mean":231,"sd":19},
    {"series":"Neutered 26 weeks (MNP)","week":13,"mean":240,"sd":15},
    {"series":"Neutered 26 weeks (MNP)","week":14,"mean":218,"sd":21},
    {"series":"Neutered 26 weeks (MNP)","week":15,"mean":211,"sd":18},
    {"series":"Neutered 26 weeks (MNP)","week":16,"mean":206,"sd":19},
    {"series":"Neutered 26 weeks (MNP)","week":17,"mean":182,"sd":24},
    {"series":"Neutered 26 weeks (MNP)","week":18,"mean":213,"sd":22},
    {"series":"Neutered 26 weeks (MNP)","week":19,"mean":190,"sd":15},
    {"series":"Neutered 26 weeks (MNP)","week":20,"mean":180,"sd":17},
    {"series":"Neutered 26 weeks (MNP)","week":21,"mean":176,"sd":18},
    {"series":"Neutered 26 weeks (MNP)","week":22,"mean":178,"sd":20},
    {"series":"Neutered 26 weeks (MNP)","week":23,"mean":177,"sd":21},
    {"series":"Neutered 26 weeks (MNP)","week":24,"mean":167,"sd":19},
    {"series":"Neutered 26 weeks (MNP)","week":25,"mean":163,"sd":20},
    {"series":"Neutered 26 weeks (MNP)","week":28,"mean":162,"sd":20},
    {"series":"Neutered 26 weeks (MNP)","week":29,"mean":168,"sd":16},
    {"series":"Neutered 26 weeks (MNP)","week":30,"mean":162,"sd":21},
    {"series":"Neutered 26 weeks (MNP)","week":31,"mean":165,"sd":22},
    {"series":"Neutered 26 weeks (MNP)","week":32,"mean":171,"sd":19},
    {"series":"Neutered 26 weeks (MNP)","week":33,"mean":172,"sd":21},
    {"series":"Neutered 26 weeks (MNP)","week":34,"mean":173,"sd":20},
    {"series":"Neutered 26 weeks (MNP)","week":35,"mean":169,"sd":19},
    {"series":"Neutered 26 weeks (MNP)","week":36,"mean":171,"sd":21},
    {"series":"Neutered 26 weeks (MNP)","week":37,"mean":159,"sd":22},
    {"series":"Neutered 26 weeks (MNP)","week":38,"mean":157,"sd":21},
    {"series":"Neutered 26 weeks (MNP)","week":39,"mean":146,"sd":20},
    {"series":"Neutered 26 weeks (MNP)","week":40,"mean":128,"sd":21},
    {"series":"Neutered 26 weeks (MNP)","week":41,"mean":128,"sd":21},
    {"series":"Neutered 26 weeks (MNP)","week":42,"mean":126,"sd":19},
    {"series":"Neutered 26 weeks (MNP)","week":43,"mean":124,"sd":20},
    {"series":"Neutered 26 weeks (MNP)","week":44,"mean":122,"sd":21},
    {"series":"Neutered 26 weeks (MNP)","week":45,"mean":122,"sd":18},
    {"series":"Neutered 26 weeks (MNP)","week":46,"mean":118,"sd":18},
    {"series":"Neutered 26 weeks (MNP)","week":47,"mean":114,"sd":19},
    {"series":"Neutered 26 weeks (MNP)","week":48,"mean":112,"sd":20},
    {"series":"Neutered 26 weeks (MNP)","week":49,"mean":111,"sd":19},
    {"series":"Neutered 26 weeks (MNP)","week":50,"mean":113,"sd":21},
    {"series":"Neutered 26 weeks (MNP)","week":51,"mean":107,"sd":18},
    {"series":"Neutered 26 weeks (MNP)","week":52,"mean":105,"sd":21},
    {"series":"Entire (MNP)","week":11,"mean":248,"sd":22},
    {"series":"Entire (MNP)","week":12,"mean":233,"sd":22},
    {"series":"Entire (MNP)","week":13,"mean":243,"sd":22},
    {"series":"Entire (MNP)","week":14,"mean":225,"sd":22},
    {"series":"Entire (MNP)","week":15,"mean":217,"sd":22},
    {"series":"Entire (MNP)","week":16,"mean":211,"sd":22},
    {"series":"Entire (MNP)","week":17,"mean":190,"sd":22},
    {"series":"Entire (MNP)","week":18,"mean":214,"sd":22},
    {"series":"Entire (MNP)","week":19,"mean":202,"sd":22},
    {"series":"Entire (MNP)","week":20,"mean":193,"sd":22},
    {"series":"Entire (MNP)","week":21,"mean":187,"sd":22},
    {"series":"Entire (MNP)","week":22,"mean":184,"sd":22},
    {"series":"Entire (MNP)","week":23,"mean":178,"sd":22},
    {"series":"Entire (MNP)","week":24,"mean":172,"sd":22},
    {"series":"Entire (MNP)","week":25,"mean":168,"sd":22},
    {"series":"Entire (MNP)","week":28,"mean":160,"sd":22},
    {"series":"Entire (MNP)","week":29,"mean":156,"sd":22},
    {"series":"Entire (MNP)","week":30,"mean":151,"sd":22},
    {"series":"Entire (MNP)","week":31,"mean":148,"sd":22},
    {"series":"Entire (MNP)","week":32,"mean":150,"sd":22},
    {"series":"Entire (MNP)","week":33,"mean":151,"sd":22},
    {"series":"Entire (MNP)","week":34,"mean":154,"sd":23},
    {"series":"Entire (MNP)","week":35,"mean":151,"sd":23},
    {"series":"Entire (MNP)","week":36,"mean":147,"sd":22},
    {"series":"Entire (MNP)","week":37,"mean":142,"sd":22},
    {"series":"Entire (MNP)","week":38,"mean":140,"sd":22},
    {"series":"Entire (MNP)","week":39,"mean":137,"sd":22},
    {"series":"Entire (MNP)","week":40,"mean":132,"sd":22},
    {"series":"Entire (MNP)","week":41,"mean":126,"sd":22},
    {"series":"Entire (MNP)","week":42,"mean":131,"sd":23},
    {"series":"Entire (MNP)","week":43,"mean":128,"sd":23},
    {"series":"Entire (MNP)","week":44,"mean":131,"sd":23},
    {"series":"Entire (MNP)","week":45,"mean":128,"sd":23},
    {"series":"Entire (MNP)","week":46,"mean":131,"sd":24},
    {"series":"Entire (MNP)","week":47,"mean":134,"sd":24},
    {"series":"Entire (MNP)","week":48,"mean":134,"sd":24},
    {"series":"Entire (MNP)","week":49,"mean":131,"sd":24},
    {"series":"Entire (MNP)","week":50,"mean":132,"sd":25},
    {"series":"Entire (MNP)","week":51,"mean":132,"sd":24},
    {"series":"Entire (MNP)","week":52,"mean":126,"sd":22}
  ],
  "STARS_BW": [
    {"week":30,"mean":2.0},{"week":31,"mean":1.98},{"week":32,"mean":2.03},{"week":33,"mean":2.03},
    {"week":34,"mean":2.09},{"week":35,"mean":2.19},{"week":36,"mean":2.31}
  ],
  "STARS_IN": [
    {"week":28,"mean":86},{"week":30,"mean":67.7},{"week":31,"mean":77.2},{"week":32,"mean":62.3},
    {"week":36,"mean":74.2},{"week":37,"mean":68.3},{"week":38,"mean":56.4},{"week":39,"mean":55.8},{"week":40,"mean":49}
  ]
},
"spacing": 12,
"resolve": {"scale": {"color": "shared"}, "legend": {"color": "shared"}},
"vconcat": [
  {"spacing": 12, "resolve": {"scale": {"color": "shared"}},
   "hconcat": [
    {"spacing": 1, "vconcat": [
      {"width": 333, "height": 39, "view": {"fill": "#CCCCCC", "stroke": "#A6A6A6"},
       "data": {"values": [{"panel": "TER"}]},
       "mark": {"type": "text", "fontSize": 21, "color": "#1A1A1A", "align": "center", "baseline": "middle"},
       "encoding": {"text": {"field": "panel"}}},
      {"width": 333, "height": 328, "view": {"fill": "#F2F2F2", "stroke": "#A6A6A6"},
       "data": {"name": "BW_TER"},
       "encoding": {
         "x": {"field": "week", "type": "quantitative", "scale": {"domain": [8.35, 54.5], "nice": false, "zero": false}, "axis": null},
         "y": {"field": "mean", "type": "quantitative", "scale": {"domain": [0.72, 4.83], "nice": false, "zero": false},
               "axis": {"values": [1, 2, 3, 4], "title": "BW (kg)", "titleFontSize": 22, "titlePadding": 22, "labelPadding": 10}}
       },
       "layer": [
         {"transform": [{"filter": {"field": "series", "equal": "Neutered 19 weeks (TER)"}}],
          "mark": {"type": "errorbar", "opacity": 1, "rule": {"strokeWidth": 2.9, "opacity": 1}, "ticks": {"size": 8, "thickness": 3.2, "opacity": 1}},
          "encoding": {"yError": {"field": "sd"},
            "color": {"field": "series", "type": "nominal",
              "scale": {"domain": ["Neutered 19 weeks (TER)", "Neutered 19 weeks (self-regulated)", "Neutered 26 weeks (MNP)", "Neutered 31 weeks (TER)", "Entire (self-regulated)", "Entire (MNP)"],
                        "range": ["#30309E", "#7F26D9", "#006400", "#96C8EC", "#EEAEEE", "#C1FFC1"]},
              "legend": {"title": null}}}},
         {"transform": [{"filter": {"field": "series", "equal": "Neutered 31 weeks (TER)"}}],
          "mark": {"type": "errorbar", "opacity": 1, "rule": {"strokeWidth": 2.9, "opacity": 1}, "ticks": {"size": 8, "thickness": 3.2, "opacity": 1}},
          "encoding": {"yError": {"field": "sd"}, "color": {"field": "series", "type": "nominal"}}},
         {"transform": [{"filter": {"field": "series", "equal": "Neutered 31 weeks (TER)"}}],
          "mark": {"type": "line", "strokeWidth": 3.2},
          "encoding": {"color": {"field": "series", "type": "nominal"}}},
         {"transform": [{"filter": {"field": "series", "equal": "Neutered 19 weeks (TER)"}}],
          "mark": {"type": "line", "strokeWidth": 3.2},
          "encoding": {"color": {"field": "series", "type": "nominal"}}},
         {"data": {"name": "STARS_BW"},
          "mark": {"type": "text", "text": "*", "fontSize": 21, "color": "#4D4D4D", "baseline": "alphabetic", "dy": 12}}
       ]}
    ]},
    {"spacing": 1, "vconcat": [
      {"width": 333, "height": 39, "view": {"fill": "#CCCCCC", "stroke": "#A6A6A6"},
       "data": {"values": [{"panel": "Self- regulated"}]},
       "mark": {"type": "text", "fontSize": 21, "color": "#1A1A1A", "align": "center", "baseline": "middle"},
       "encoding": {"text": {"field": "panel"}}},
      {"width": 333, "height": 328, "view": {"fill": "white", "stroke": "#A6A6A6"},
       "data": {"name": "BW_SR"},
       "encoding": {
         "x": {"field": "week", "type": "quantitative", "scale": {"domain": [8.35, 54.5], "nice": false, "zero": false}, "axis": null},
         "y": {"field": "mean", "type": "quantitative", "scale": {"domain": [0.72, 4.83], "nice": false, "zero": false}, "axis": null}
       },
       "layer": [
         {"transform": [{"filter": {"field": "series", "equal": "Entire (self-regulated)"}}],
          "mark": {"type": "errorbar", "opacity": 1, "rule": {"strokeWidth": 2.9, "opacity": 1}, "ticks": {"size": 8, "thickness": 3.2, "opacity": 1}},
          "encoding": {"yError": {"field": "sd"}, "color": {"field": "series", "type": "nominal"}}},
         {"transform": [{"filter": {"field": "series", "equal": "Neutered 19 weeks (self-regulated)"}}],
          "mark": {"type": "errorbar", "opacity": 1, "rule": {"strokeWidth": 2.9, "opacity": 1}, "ticks": {"size": 8, "thickness": 3.2, "opacity": 1}},
          "encoding": {"yError": {"field": "sd"}, "color": {"field": "series", "type": "nominal"}}},
         {"transform": [{"filter": {"field": "series", "equal": "Neutered 19 weeks (self-regulated)"}}],
          "mark": {"type": "line", "strokeWidth": 3.2},
          "encoding": {"color": {"field": "series", "type": "nominal"}}},
         {"transform": [{"filter": {"field": "series", "equal": "Entire (self-regulated)"}}],
          "mark": {"type": "line", "strokeWidth": 3.2},
          "encoding": {"color": {"field": "series", "type": "nominal"}}}
       ]}
    ]},
    {"spacing": 1, "vconcat": [
      {"width": 333, "height": 39, "view": {"fill": "#CCCCCC", "stroke": "#A6A6A6"},
       "data": {"values": [{"panel": "MNP"}]},
       "mark": {"type": "text", "fontSize": 21, "color": "#1A1A1A", "align": "center", "baseline": "middle"},
       "encoding": {"text": {"field": "panel"}}},
      {"width": 333, "height": 328, "view": {"fill": "white", "stroke": "#A6A6A6"},
       "data": {"name": "BW_MNP"},
       "encoding": {
         "x": {"field": "week", "type": "quantitative", "scale": {"domain": [8.35, 54.5], "nice": false, "zero": false}, "axis": null},
         "y": {"field": "mean", "type": "quantitative", "scale": {"domain": [0.72, 4.83], "nice": false, "zero": false}, "axis": null}
       },
       "layer": [
         {"transform": [{"filter": {"field": "series", "equal": "Entire (MNP)"}}],
          "mark": {"type": "errorbar", "opacity": 1, "rule": {"strokeWidth": 2.9, "opacity": 1}, "ticks": {"size": 8, "thickness": 3.2, "opacity": 1}},
          "encoding": {"yError": {"field": "sd"}, "color": {"field": "series", "type": "nominal"}}},
         {"transform": [{"filter": {"field": "series", "equal": "Neutered 26 weeks (MNP)"}}],
          "mark": {"type": "errorbar", "opacity": 1, "rule": {"strokeWidth": 2.9, "opacity": 1}, "ticks": {"size": 8, "thickness": 3.2, "opacity": 1}},
          "encoding": {"yError": {"field": "sd"}, "color": {"field": "series", "type": "nominal"}}},
         {"transform": [{"filter": {"field": "series", "equal": "Neutered 26 weeks (MNP)"}}],
          "mark": {"type": "line", "strokeWidth": 3.2},
          "encoding": {"color": {"field": "series", "type": "nominal"}}},
         {"transform": [{"filter": {"field": "series", "equal": "Entire (MNP)"}}],
          "mark": {"type": "line", "strokeWidth": 3.2},
          "encoding": {"color": {"field": "series", "type": "nominal"}}}
       ]}
    ]}
  ]},
  {"spacing": 12, "resolve": {"scale": {"color": "shared"}},
   "hconcat": [
    {"width": 333, "height": 327, "view": {"fill": "#F2F2F2", "stroke": "#A6A6A6"},
     "data": {"name": "IN_TER"},
     "encoding": {
       "x": {"field": "week", "type": "quantitative", "scale": {"domain": [8.35, 54.5], "nice": false, "zero": false},
             "axis": {"values": [10, 18, 26, 34, 42, 50], "title": null, "labelPadding": 6}},
       "y": {"field": "mean", "type": "quantitative", "scale": {"domain": [17.7, 309.2], "nice": false, "zero": false},
             "axis": {"values": [100, 200, 300], "title": "Intake (kcal/d per kg BW⁰·⁶⁷)", "titleFontSize": 23, "titlePadding": 11, "labelPadding": 10}}
     },
     "layer": [
       {"transform": [{"filter": {"field": "series", "equal": "Neutered 19 weeks (TER)"}}],
        "mark": {"type": "errorbar", "opacity": 1, "rule": {"strokeWidth": 2.9, "opacity": 1}, "ticks": {"size": 8, "thickness": 3.2, "opacity": 1}},
        "encoding": {"yError": {"field": "sd"}, "color": {"field": "series", "type": "nominal"}}},
       {"transform": [{"filter": {"field": "series", "equal": "Neutered 31 weeks (TER)"}}],
        "mark": {"type": "errorbar", "opacity": 1, "rule": {"strokeWidth": 2.9, "opacity": 1}, "ticks": {"size": 8, "thickness": 3.2, "opacity": 1}},
        "encoding": {"yError": {"field": "sd"}, "color": {"field": "series", "type": "nominal"}}},
       {"transform": [{"filter": {"field": "series", "equal": "Neutered 31 weeks (TER)"}}],
        "mark": {"type": "line", "strokeWidth": 3.2},
        "encoding": {"color": {"field": "series", "type": "nominal"}}},
       {"transform": [{"filter": {"field": "series", "equal": "Neutered 19 weeks (TER)"}}],
        "mark": {"type": "line", "strokeWidth": 3.2},
        "encoding": {"color": {"field": "series", "type": "nominal"}}},
       {"data": {"name": "STARS_IN"},
        "mark": {"type": "text", "text": "*", "fontSize": 21, "color": "#4D4D4D", "baseline": "alphabetic", "dy": 12}}
     ]},
    {"width": 333, "height": 327, "view": {"fill": "white", "stroke": "#A6A6A6"},
     "data": {"name": "IN_SR"},
     "encoding": {
       "x": {"field": "week", "type": "quantitative", "scale": {"domain": [8.35, 54.5], "nice": false, "zero": false},
             "axis": {"values": [10, 18, 26, 34, 42, 50], "title": "Age (weeks)", "titleFontSize": 27, "titlePadding": 5, "labelPadding": 6}},
       "y": {"field": "mean", "type": "quantitative", "scale": {"domain": [17.7, 309.2], "nice": false, "zero": false}, "axis": null}
     },
     "layer": [
       {"transform": [{"filter": {"field": "series", "equal": "Entire (self-regulated)"}}],
        "mark": {"type": "errorbar", "opacity": 1, "rule": {"strokeWidth": 2.9, "opacity": 1}, "ticks": {"size": 8, "thickness": 3.2, "opacity": 1}},
        "encoding": {"yError": {"field": "sd"}, "color": {"field": "series", "type": "nominal"}}},
       {"transform": [{"filter": {"field": "series", "equal": "Neutered 19 weeks (self-regulated)"}}],
        "mark": {"type": "errorbar", "opacity": 1, "rule": {"strokeWidth": 2.9, "opacity": 1}, "ticks": {"size": 8, "thickness": 3.2, "opacity": 1}},
        "encoding": {"yError": {"field": "sd"}, "color": {"field": "series", "type": "nominal"}}},
       {"transform": [{"filter": {"field": "series", "equal": "Neutered 19 weeks (self-regulated)"}}],
        "mark": {"type": "line", "strokeWidth": 3.2},
        "encoding": {"color": {"field": "series", "type": "nominal"}}},
       {"transform": [{"filter": {"field": "series", "equal": "Entire (self-regulated)"}}],
        "mark": {"type": "line", "strokeWidth": 3.2},
        "encoding": {"color": {"field": "series", "type": "nominal"}}}
     ]},
    {"width": 333, "height": 327, "view": {"fill": "white", "stroke": "#A6A6A6"},
     "data": {"name": "IN_MNP"},
     "encoding": {
       "x": {"field": "week", "type": "quantitative", "scale": {"domain": [8.35, 54.5], "nice": false, "zero": false},
             "axis": {"values": [10, 18, 26, 34, 42, 50], "title": null, "labelPadding": 6}},
       "y": {"field": "mean", "type": "quantitative", "scale": {"domain": [17.7, 309.2], "nice": false, "zero": false}, "axis": null}
     },
     "layer": [
       {"transform": [{"filter": {"field": "series", "equal": "Entire (MNP)"}}],
        "mark": {"type": "errorbar", "opacity": 1, "rule": {"strokeWidth": 2.9, "opacity": 1}, "ticks": {"size": 8, "thickness": 3.2, "opacity": 1}},
        "encoding": {"yError": {"field": "sd"}, "color": {"field": "series", "type": "nominal"}}},
       {"transform": [{"filter": {"field": "series", "equal": "Neutered 26 weeks (MNP)"}}],
        "mark": {"type": "errorbar", "opacity": 1, "rule": {"strokeWidth": 2.9, "opacity": 1}, "ticks": {"size": 8, "thickness": 3.2, "opacity": 1}},
        "encoding": {"yError": {"field": "sd"}, "color": {"field": "series", "type": "nominal"}}},
       {"transform": [{"filter": {"field": "series", "equal": "Neutered 26 weeks (MNP)"}}],
        "mark": {"type": "line", "strokeWidth": 3.2},
        "encoding": {"color": {"field": "series", "type": "nominal"}}},
       {"transform": [{"filter": {"field": "series", "equal": "Entire (MNP)"}}],
        "mark": {"type": "line", "strokeWidth": 3.2},
        "encoding": {"color": {"field": "series", "type": "nominal"}}}
     ]}
  ]}
]
}
